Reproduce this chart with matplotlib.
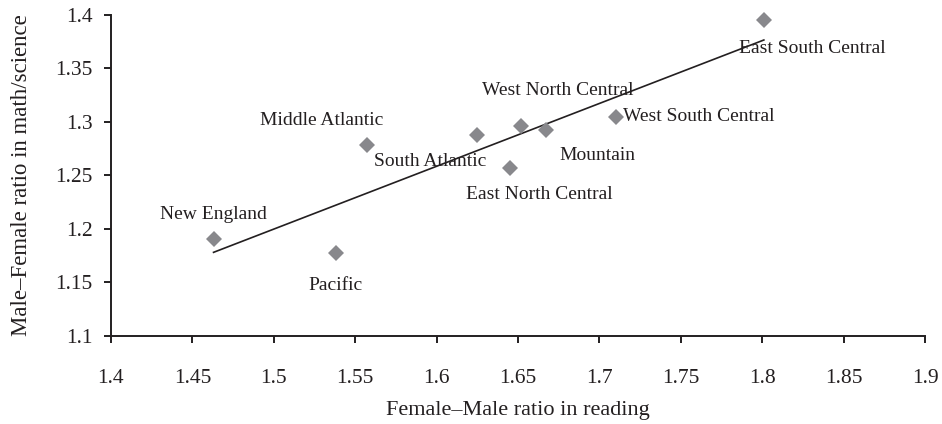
import numpy as np
import matplotlib
matplotlib.use("Agg")
import matplotlib.pyplot as plt

# Census divisions: reading gap (F/M) vs. math/science gap (M/F)
regions = ["New England", "Pacific", "Middle Atlantic", "South Atlantic",
           "East North Central", "West North Central", "Mountain",
           "West South Central", "East South Central"]
reading_ratio = [1.463, 1.538, 1.557, 1.625, 1.645, 1.652, 1.667, 1.710, 1.801]
math_ratio = [1.190, 1.177, 1.278, 1.288, 1.257, 1.296, 1.292, 1.305, 1.395]

x_ticks = [1.4, 1.45, 1.5, 1.55, 1.6, 1.65, 1.7, 1.75, 1.8, 1.85, 1.9]
y_ticks = [1.1, 1.15, 1.2, 1.25, 1.3, 1.35, 1.4]

# label offsets in points (dx, dy) and horizontal alignment
label_pos = {
    "New England": (0, 18, "center"),
    "Pacific": (0, -23, "center"),
    "Middle Atlantic": (-32, 18, "center"),
    "South Atlantic": (-34, -19, "center"),
    "East North Central": (21, -19, "center"),
    "West North Central": (26, 26, "center"),
    "Mountain": (37, -18, "center"),
    "West South Central": (5, 0, "left"),
    "East South Central": (35, -20, "center"),
}

serif = ["Liberation Serif", "DejaVu Serif"]
plt.rcParams["font.family"] = serif
ink = "#231f20"

fig = plt.figure(figsize=(9.42, 4.24), dpi=100)
ax = fig.add_axes([0.1178, 0.2083, 0.8642, 0.7563])

x = np.array(reading_ratio)
y = np.array(math_ratio)

# least-squares trend line over the data range
slope, intercept = np.polyfit(x, y, 1)
xs = np.array([x.min(), x.max()])
ax.plot(xs, slope * xs + intercept, color=ink, lw=1.2, zorder=2)

ax.plot(x, y, linestyle="none", marker="D", markersize=8.2,
        color="#88888c", markeredgewidth=0, zorder=3, clip_on=False)

for name, xi, yi in zip(regions, x, y):
    dx, dy, ha = label_pos[name]
    ax.annotate(name, (xi, yi), xytext=(dx, dy), textcoords="offset points",
                ha=ha, va="center", fontsize=14, color=ink, zorder=4)

ax.set_xlim(1.4, 1.9)
ax.set_ylim(1.1, 1.4)
ax.set_xticks(x_ticks)
ax.set_yticks(y_ticks)
ax.set_xticklabels([f"{t:g}" for t in x_ticks])
ax.set_yticklabels([f"{t:g}" for t in y_ticks])

for side in ("top", "right"):
    ax.spines[side].set_visible(False)
for side in ("left", "bottom"):
    ax.spines[side].set_linewidth(1.4)
    ax.spines[side].set_color(ink)

ax.tick_params(axis="x", direction="out", length=5, width=1.4, color=ink,
               pad=19, labelsize=15.5, labelcolor=ink)
ax.tick_params(axis="y", direction="out", length=5, width=1.4, color=ink,
               pad=8, labelsize=15.5, labelcolor=ink)

ax.set_xlabel("Female\u2013Male ratio in reading", fontsize=16, color=ink,
              labelpad=9)
ax.set_ylabel("Male\u2013Female ratio in math/science", fontsize=16.5, color=ink,
              labelpad=17)

fig.savefig("out.png", dpi=100)
